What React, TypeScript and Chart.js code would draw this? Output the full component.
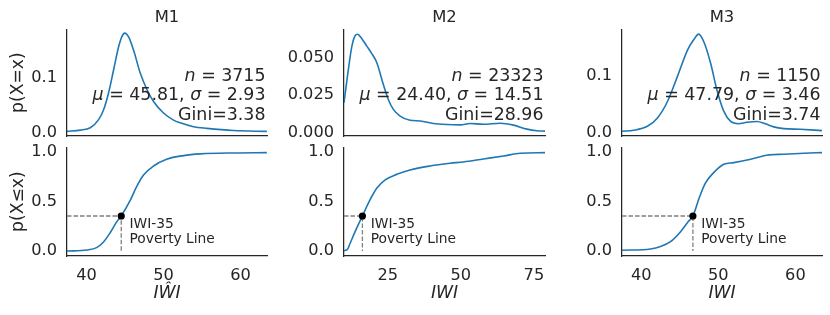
import React, { useEffect, useRef } from 'react';
import { Chart, registerables } from 'chart.js';

Chart.register(...registerables);

// ---------------- data ----------------
const MODEL_NAMES = ['M1', 'M2', 'M3'];
const X_LABELS = ['IŴI', 'IWI', 'IWI'];
const PDF_Y_LABEL = 'p(X=x)';
const CDF_Y_LABEL = 'p(X≤x)';
const POVERTY_LABEL_1 = 'IWI-35';
const POVERTY_LABEL_2 = 'Poverty Line';

const SAMPLE_SIZES = ['3715', '23323', '1150'];
const MEANS = ['45.81', '24.40', '47.79'];
const STDS = ['2.93', '14.51', '3.46'];
const GINIS = ['3.38', '28.96', '3.74'];

const X_TICKS_M1 = [40, 50, 60];
const X_TICKS_M2 = [25, 50, 75];
const X_TICKS_M3 = [40, 50, 60];
const PDF_TICKS_M1 = [0.0, 0.1];
const PDF_TICKS_M2 = [0.0, 0.025, 0.05];
const PDF_TICKS_M3 = [0.0, 0.1];
const CDF_TICKS = [0.0, 0.5, 1.0];

const PDF_M1_X = [37.45, 39.18, 40.48, 41.56, 42.21, 42.86, 43.51, 44.16, 44.6, 44.94, 45.46, 46.1, 46.97, 47.84, 48.7, 50.0, 51.3, 52.17, 53.9, 55.64, 59.1, 63.43];
const PDF_M1_Y = [0.0024, 0.0047, 0.009, 0.024, 0.042, 0.073, 0.115, 0.157, 0.176, 0.182, 0.175, 0.151, 0.109, 0.079, 0.057, 0.036, 0.023, 0.018, 0.011, 0.008, 0.004, 0.0024];
const CDF_M1_X = [37.45, 40.05, 41.3, 42.2, 43.1, 43.9, 44.5, 45.7, 46.5, 47.4, 48.7, 50.4, 52.6, 54.8, 59.1, 63.43];
const CDF_M1_Y = [0.0, 0.011, 0.035, 0.092, 0.19, 0.295, 0.355, 0.517, 0.652, 0.77, 0.861, 0.929, 0.966, 0.983, 0.993, 0.996];

const PDF_M2_X = [10.0, 11.2, 12.7, 13.8, 14.6, 16.1, 17.8, 19.5, 21.2, 23.5, 25.2, 26.9, 29.2, 32.6, 36.1, 40.6, 45.2, 49.8, 53.2, 57.7, 63.5, 68.0, 72.6, 76.0, 78.8];
const PDF_M2_Y = [0.020, 0.038, 0.058, 0.065, 0.066, 0.063, 0.058, 0.053, 0.047, 0.032, 0.022, 0.0155, 0.011, 0.0082, 0.0077, 0.006, 0.0053, 0.0051, 0.006, 0.0055, 0.0062, 0.0049, 0.0022, 0.0011, 0.0009];
const CDF_M2_X = [10.0, 11.2, 12.1, 13.8, 16.3, 18.9, 21.2, 24.1, 28.1, 32.6, 39.5, 46.3, 50.9, 57.7, 64.6, 70.3, 78.8];
const CDF_M2_Y = [0.004, 0.018, 0.079, 0.196, 0.355, 0.517, 0.635, 0.72, 0.777, 0.821, 0.861, 0.888, 0.902, 0.932, 0.962, 0.99, 0.996];

const PDF_M3_X = [37.5, 39.0, 40.8, 42.1, 43.4, 44.7, 46.0, 46.8, 47.45, 48.1, 49.0, 49.8, 50.7, 51.6, 52.6, 53.7, 55.0, 56.1, 57.2, 58.5, 60.6, 63.45];
const PDF_M3_Y = [0.0028, 0.0045, 0.0115, 0.026, 0.055, 0.099, 0.145, 0.163, 0.173, 0.160, 0.122, 0.076, 0.038, 0.020, 0.016, 0.0185, 0.020, 0.016, 0.0105, 0.0075, 0.0063, 0.004];
const CDF_M3_X = [37.5, 41.2, 42.5, 43.8, 45.1, 46.1, 46.7, 47.5, 48.3, 49.4, 50.7, 52.0, 54.2, 56.3, 58.5, 61.1, 63.45];
const CDF_M3_Y = [0.008, 0.021, 0.045, 0.095, 0.196, 0.298, 0.355, 0.534, 0.686, 0.794, 0.878, 0.895, 0.929, 0.97, 0.98, 0.99, 0.996];

const POVERTY_X = [44.5, 16.3, 46.7];
const POVERTY_P = [0.355, 0.355, 0.355];

// ---------------- panel configuration ----------------
const PANELS = [
  {
    name: MODEL_NAMES[0], xLabel: X_LABELS[0], xMin: 37.45, xMax: 63.45, xTicks: X_TICKS_M1,
    pdfX: PDF_M1_X, pdfY: PDF_M1_Y, pdfMin: -0.006, pdfMax: 0.189, pdfTicks: PDF_TICKS_M1, pdfDec: 1,
    cdfX: CDF_M1_X, cdfY: CDF_M1_Y, povX: POVERTY_X[0], povP: POVERTY_P[0],
    n: SAMPLE_SIZES[0], mu: MEANS[0], sd: STDS[0], gini: GINIS[0],
  },
  {
    name: MODEL_NAMES[1], xLabel: X_LABELS[1], xMin: 10.0, xMax: 78.8, xTicks: X_TICKS_M2,
    pdfX: PDF_M2_X, pdfY: PDF_M2_Y, pdfMin: -0.0024, pdfMax: 0.0693, pdfTicks: PDF_TICKS_M2, pdfDec: 3,
    cdfX: CDF_M2_X, cdfY: CDF_M2_Y, povX: POVERTY_X[1], povP: POVERTY_P[1],
    n: SAMPLE_SIZES[1], mu: MEANS[1], sd: STDS[1], gini: GINIS[1],
  },
  {
    name: MODEL_NAMES[2], xLabel: X_LABELS[2], xMin: 37.5, xMax: 63.45, xTicks: X_TICKS_M3,
    pdfX: PDF_M3_X, pdfY: PDF_M3_Y, pdfMin: -0.0055, pdfMax: 0.1815, pdfTicks: PDF_TICKS_M3, pdfDec: 1,
    cdfX: CDF_M3_X, cdfY: CDF_M3_Y, povX: POVERTY_X[2], povP: POVERTY_P[2],
    n: SAMPLE_SIZES[2], mu: MEANS[2], sd: STDS[2], gini: GINIS[2],
  },
];

// ---------------- styling / layout ----------------
const FAMILY = '"DejaVu Sans", "Liberation Sans", sans-serif';
const TEXT = '#262626';
const BLUE = '#1f77b4';
const GREY = '#808080';

const CANVAS_LEFT = [0, 277, 555];
const PLOT_W = [200, 201, 200];
const Y_AXIS_W = 67;
const RIGHT_PAD = 4;

const TOP_ROW = { top: 0, height: 140 };
const BOTTOM_ROW = { top: 141, height: 174 };

type Seg = { t: string; i?: boolean };

function drawRich(ctx: CanvasRenderingContext2D, segs: Seg[], xRight: number, y: number, size: number) {
  let x = xRight;
  for (let k = segs.length - 1; k >= 0; k--) {
    const s = segs[k];
    ctx.font = `${s.i ? 'italic ' : ''}${size}px ${FAMILY}`;
    const w = ctx.measureText(s.t).width;
    x -= w;
    ctx.fillText(s.t, x, y);
  }
}

function baseScale() {
  return {
    type: 'linear' as const,
    grid: { display: false, drawTicks: false, tickLength: 0 },
    border: { display: true, color: TEXT, width: 1.25 },
  };
}

function makeConfig(p: any, row: number, col: number) {
  const isPdf = row === 0;
  const curveX: number[] = isPdf ? p.pdfX : p.cdfX;
  const curveY: number[] = isPdf ? p.pdfY : p.cdfY;
  const curve = curveX.map((x, k) => ({ x, y: curveY[k] }));

  const datasets: any[] = [];
  if (!isPdf) {
    datasets.push({
      data: [{ x: p.povX, y: p.povP }],
      showLine: false,
      pointRadius: 3.6,
      pointBackgroundColor: '#000000',
      pointBorderColor: '#000000',
      pointBorderWidth: 0,
    });
  }
  datasets.push({
    data: curve,
    borderColor: BLUE,
    borderWidth: 1.6,
    pointRadius: 0,
    cubicInterpolationMode: 'monotone',
    fill: false,
  });
  if (!isPdf) {
    datasets.push({
      data: [
        { x: p.xMin, y: p.povP },
        { x: p.povX, y: p.povP },
        { x: p.povX, y: 0 },
      ],
      borderColor: GREY,
      borderWidth: 1.3,
      borderDash: [4.5, 2],
      pointRadius: 0,
      tension: 0,
      fill: false,
    });
  }

  const textPlugin = {
    id: 'panelText',
    afterDatasetsDraw(chart: any) {
      const ctx: CanvasRenderingContext2D = chart.ctx;
      const area = chart.chartArea;
      ctx.save();
      ctx.fillStyle = TEXT;
      ctx.textAlign = 'left';
      ctx.textBaseline = 'alphabetic';
      if (isPdf) {
        const xr = area.right - 1.5;
        const size = 17.4;
        drawRich(ctx, [{ t: 'n', i: true }, { t: ' = ' + p.n }], xr, area.top + 51.5, size);
        drawRich(ctx, [{ t: 'μ', i: true }, { t: ' = ' + p.mu + ', ' }, { t: 'σ', i: true }, { t: ' = ' + p.sd }], xr, area.top + 71, size);
        drawRich(ctx, [{ t: 'Gini=' + p.gini }], xr, area.top + 90.5, size);
      } else {
        const px = chart.scales.x.getPixelForValue(p.povX);
        const py = chart.scales.y.getPixelForValue(p.povP);
        ctx.font = `13.8px ${FAMILY}`;
        ctx.fillText(POVERTY_LABEL_1, px + 8.3, py + 11.6);
        ctx.fillText(POVERTY_LABEL_2, px + 8.3, py + 27);
      }
      ctx.restore();
    },
  };

  const xScale: any = {
    ...baseScale(),
    min: p.xMin,
    max: p.xMax,
    afterBuildTicks: (s: any) => {
      s.ticks = p.xTicks.map((v: number) => ({ value: v }));
    },
    afterFit: (s: any) => {
      s.height = isPdf ? TOP_ROW.height - 136 : BOTTOM_ROW.height - (256 - BOTTOM_ROW.top);
      s.paddingLeft = 0;
      s.paddingRight = 0;
    },
    ticks: isPdf
      ? { display: false }
      : {
          display: true,
          padding: 10.5,
          autoSkip: false,
          maxRotation: 0,
          color: TEXT,
          font: { family: FAMILY, size: 16.2 },
          callback: (v: any) => String(v),
        },
    title: isPdf
      ? { display: false }
      : {
          display: true,
          text: p.xLabel,
          color: TEXT,
          font: { family: FAMILY, size: 17.2, style: 'italic' },
          padding: { top: 0, bottom: 11.5 },
        },
  };

  const yTicks: number[] = isPdf ? p.pdfTicks : CDF_TICKS;
  const yDec = isPdf ? p.pdfDec : 1;
  const yScale: any = {
    ...baseScale(),
    min: isPdf ? p.pdfMin : -0.05,
    max: isPdf ? p.pdfMax : 1.05,
    afterBuildTicks: (s: any) => {
      s.ticks = yTicks.map((v) => ({ value: v }));
    },
    afterFit: (s: any) => {
      s.width = Y_AXIS_W;
      s.paddingTop = 0;
      s.paddingBottom = 0;
    },
    ticks: {
      padding: 10,
      color: TEXT,
      font: { family: FAMILY, size: 16.2 },
      callback: (v: any) => Number(v).toFixed(yDec),
    },
    title:
      col === 0
        ? {
            display: true,
            text: isPdf ? PDF_Y_LABEL : CDF_Y_LABEL,
            color: TEXT,
            font: { family: FAMILY, size: 17.2 },
            padding: { top: 8.6, bottom: 0 },
          }
        : { display: false },
  };

  return {
    type: 'line' as const,
    data: { datasets },
    options: {
      animation: false,
      responsive: false,
      devicePixelRatio: 1,
      events: [],
      layout: {
        padding: {
          left: 0,
          right: RIGHT_PAD,
          top: isPdf ? 0 : 147.3 - BOTTOM_ROW.top,
          bottom: 0,
        },
      },
      plugins: {
        legend: { display: false },
        tooltip: { enabled: false },
        title: isPdf
          ? {
              display: true,
              text: p.name,
              fullSize: false,
              color: TEXT,
              font: { family: FAMILY, size: 16.4, weight: 'normal', lineHeight: 1.2 },
              padding: { top: 8.4, bottom: 1.2 },
            }
          : { display: false },
      },
      scales: { x: xScale, y: yScale },
    },
    plugins: [textPlugin],
  };
}

function Panel({ p, row, col }: { p: any; row: number; col: number }) {
  const ref = useRef<HTMLCanvasElement | null>(null);
  const r = row === 0 ? TOP_ROW : BOTTOM_ROW;
  const w = Y_AXIS_W + PLOT_W[col] + RIGHT_PAD;
  useEffect(() => {
    if (!ref.current) return;
    const chart = new Chart(ref.current, makeConfig(p, row, col) as any);
    return () => chart.destroy();
  }, []);
  return (
    <canvas
      ref={ref}
      width={w}
      height={r.height}
      style={{ position: 'absolute', left: CANVAS_LEFT[col], top: r.top, width: w, height: r.height }}
    />
  );
}

export default function App() {
  useEffect(() => {
    document.body.style.margin = '0';
  }, []);
  return (
    <div style={{ position: 'absolute', left: 0, top: 0, width: 830, height: 315, background: '#ffffff', overflow: 'hidden' }}>
      {PANELS.map((p, col) => (
        <React.Fragment key={p.name}>
          <Panel p={p} row={0} col={col} />
          <Panel p={p} row={1} col={col} />
        </React.Fragment>
      ))}
    </div>
  );
}
